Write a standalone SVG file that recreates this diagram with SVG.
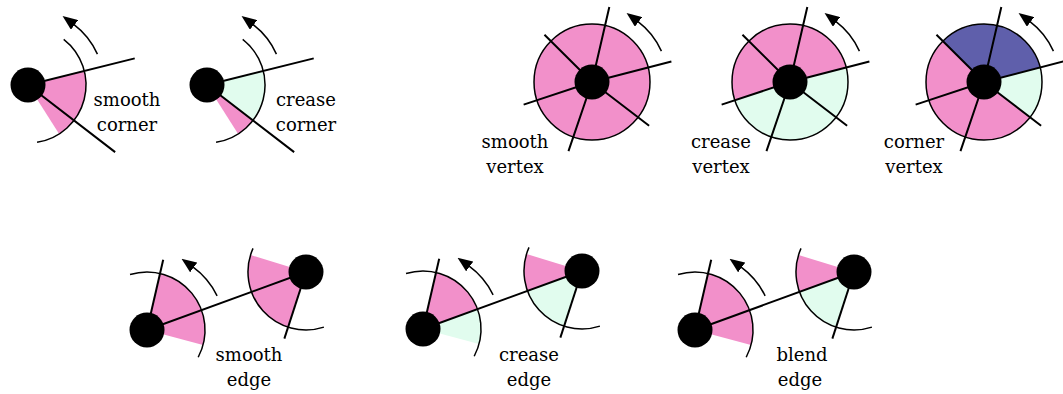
<svg xmlns="http://www.w3.org/2000/svg" width="1063" height="394" viewBox="0 0 1063 394">
<style>
.pk{fill:#f290ca;stroke:none}
.gr{fill:#e1fcee;stroke:none}
.bl{fill:#5f5fab;stroke:none}
.arc{fill:none;stroke:#000;stroke-width:1.5}
.sp{fill:none;stroke:#000;stroke-width:2}
.rot{fill:none;stroke:#000;stroke-width:1.5;marker-end:url(#ah)}
.dot{fill:#000}
.disk{fill:none;stroke:#000;stroke-width:1.5}
</style>
<defs>
<marker id="ah" viewBox="0 -6 15 12" refX="1" refY="0" markerWidth="15" markerHeight="12" markerUnits="userSpaceOnUse" orient="auto">
<path d="M0,-6 L15,0 L0,6 Z" fill="#000"/>
</marker>
</defs>
<rect width="1063" height="394" fill="#fff"/>

<g id="smooth-corner" transform="translate(28,85)">
<path class="pk" d="M0,0 L56.28,-14.03 A58,58 0 0 1 31.16,48.92 Z"/>
<path class="arc" d="M35.71,-45.70 A58,58 0 0 1 9.07,57.29"/>
<path class="sp" d="M0,0 L106.73,-26.61 M0,0 L87.15,67.11"/>
<circle class="dot" r="17.5"/>
<path class="rot" d="M69.43,-30.91 A76,76 0 0 0 45.74,-60.69"/>
</g>
<g font-family="DejaVu Serif, serif" font-size="18" text-anchor="middle" fill="#000">
<text><tspan x="127" y="106">smooth</tspan><tspan x="127" y="131">corner</tspan></text>
<text><tspan x="306" y="106">crease</tspan><tspan x="306" y="131">corner</tspan></text>
<text><tspan x="515" y="148">smooth</tspan><tspan x="515" y="173">vertex</tspan></text>
<text><tspan x="721" y="148">crease</tspan><tspan x="721" y="173">vertex</tspan></text>
<text><tspan x="914" y="148">corner</tspan><tspan x="914" y="173">vertex</tspan></text>
<text><tspan x="249" y="361">smooth</tspan><tspan x="249" y="386">edge</tspan></text>
<text><tspan x="529" y="361">crease</tspan><tspan x="529" y="386">edge</tspan></text>
<text><tspan x="802" y="361">blend</tspan><tspan x="800" y="386">edge</tspan></text>
</g>

<g id="crease-corner" transform="translate(207,85)">
<path class="gr" d="M0,0 L56.28,-14.03 A58,58 0 0 1 45.95,35.39 Z"/>
<path class="pk" d="M0,0 L45.95,35.39 A58,58 0 0 1 31.16,48.92 Z"/>
<path class="arc" d="M35.71,-45.70 A58,58 0 0 1 9.07,57.29"/>
<path class="sp" d="M0,0 L106.73,-26.61 M0,0 L87.15,67.11"/>
<circle class="dot" r="17.5"/>
<path class="rot" d="M69.43,-30.91 A76,76 0 0 0 45.74,-60.69"/>
</g>

<g id="smooth-vertex" transform="translate(592,82)">
<circle class="pk" r="58"/>
<circle class="disk" r="58"/>
<path class="sp" d="M0,0 L17.32,-75.03 M0,0 L79.39,-20.53 M0,0 L57.12,43.83 M0,0 L-23.53,69.11 M0,0 L-68.36,22.61 M0,0 L-47.54,-47.21"/>
<circle class="dot" r="17.5"/>
<path class="rot" d="M69.43,-30.91 A76,76 0 0 0 45.74,-60.69"/>
</g>

<g id="crease-vertex" transform="translate(790,82)">
<path class="pk" d="M0,0 L-55.07,18.21 A58,58 0 1 1 56.15,-14.52 Z"/>
<path class="gr" d="M0,0 L56.15,-14.52 A58,58 0 0 1 -55.07,18.21 Z"/>
<circle class="disk" r="58"/>
<path class="sp" d="M0,0 L17.32,-75.03 M0,0 L79.39,-20.53 M0,0 L57.12,43.83 M0,0 L-23.53,69.11 M0,0 L-68.36,22.61 M0,0 L-47.54,-47.21"/>
<circle class="dot" r="17.5"/>
<path class="rot" d="M69.43,-30.91 A76,76 0 0 0 45.74,-60.69"/>
</g>

<g id="corner-vertex" transform="translate(984,82)">
<path class="bl" d="M0,0 L-41.16,-40.87 A58,58 0 0 1 56.15,-14.52 Z"/>
<path class="gr" d="M0,0 L56.15,-14.52 A58,58 0 0 1 46.01,35.31 Z"/>
<path class="pk" d="M0,0 L46.01,35.31 A58,58 0 1 1 -41.16,-40.87 Z"/>
<circle class="disk" r="58"/>
<path class="sp" d="M0,0 L17.32,-75.03 M0,0 L79.39,-20.53 M0,0 L57.12,43.83 M0,0 L-23.53,69.11 M0,0 L-68.36,22.61 M0,0 L-47.54,-47.21"/>
<circle class="dot" r="17.5"/>
<path class="rot" d="M69.43,-30.91 A76,76 0 0 0 45.74,-60.69"/>
</g>

<g id="smooth-edge-a" transform="translate(147,330)">
<path class="pk" d="M0,0 L13.05,-56.51 A58,58 0 0 1 56.02,15.01 Z"/>
<path class="arc" d="M-16.96,-55.47 A58,58 0 0 1 51.21,27.23"/>
<path class="sp" d="M0,0 L16.20,-70.15"/>
<circle class="dot" r="17.5"/>
<path class="rot" d="M70.11,-34.19 A78,78 0 0 0 45.85,-63.10"/>
</g>
<g id="smooth-edge-b" transform="translate(306,272)">
<path class="pk" d="M0,0 L-17.92,55.16 A58,58 0 0 1 -55.47,-16.96 Z"/>
<path class="arc" d="M17.92,55.16 A58,58 0 0 1 -52.99,-23.59"/>
<path class="sp" d="M0,0 L-21.63,66.57"/>
<circle class="dot" r="17.5"/>
</g>

<g id="crease-edge-a" transform="translate(423,329)">
<path class="pk" d="M0,0 L13.05,-56.51 A58,58 0 0 1 54.50,-19.84 Z"/>
<path class="gr" d="M0,0 L54.50,-19.84 A58,58 0 0 1 56.02,15.01 Z"/>
<path class="arc" d="M-16.96,-55.47 A58,58 0 0 1 51.21,27.23"/>
<path class="sp" d="M0,0 L16.20,-70.15"/>
<circle class="dot" r="17.5"/>
<path class="rot" d="M70.11,-34.19 A78,78 0 0 0 45.85,-63.10"/>
</g>
<g id="crease-edge-b" transform="translate(582,271)">
<path class="gr" d="M0,0 L-17.92,55.16 A58,58 0 0 1 -54.50,19.84 Z"/>
<path class="pk" d="M0,0 L-54.50,19.84 A58,58 0 0 1 -55.47,-16.96 Z"/>
<path class="arc" d="M17.92,55.16 A58,58 0 0 1 -52.99,-23.59"/>
<path class="sp" d="M0,0 L-21.63,66.57"/>
<circle class="dot" r="17.5"/>
</g>

<g id="blend-edge-a" transform="translate(695,330)">
<path class="pk" d="M0,0 L13.05,-56.51 A58,58 0 0 1 56.02,15.01 Z"/>
<path class="arc" d="M-16.96,-55.47 A58,58 0 0 1 51.21,27.23"/>
<path class="sp" d="M0,0 L16.20,-70.15"/>
<circle class="dot" r="17.5"/>
<path class="rot" d="M70.11,-34.19 A78,78 0 0 0 45.85,-63.10"/>
</g>
<g id="blend-edge-b" transform="translate(854,272)">
<path class="gr" d="M0,0 L-17.92,55.16 A58,58 0 0 1 -54.50,19.84 Z"/>
<path class="pk" d="M0,0 L-54.50,19.84 A58,58 0 0 1 -55.47,-16.96 Z"/>
<path class="arc" d="M17.92,55.16 A58,58 0 0 1 -52.99,-23.59"/>
<path class="sp" d="M0,0 L-21.63,66.57"/>
<circle class="dot" r="17.5"/>
</g>

<g id="connectors" class="sp">
<line x1="147" y1="330" x2="306" y2="272"/>
<line x1="423" y1="329" x2="582" y2="271"/>
<line x1="695" y1="330" x2="854" y2="272"/>
</g>
</svg>
